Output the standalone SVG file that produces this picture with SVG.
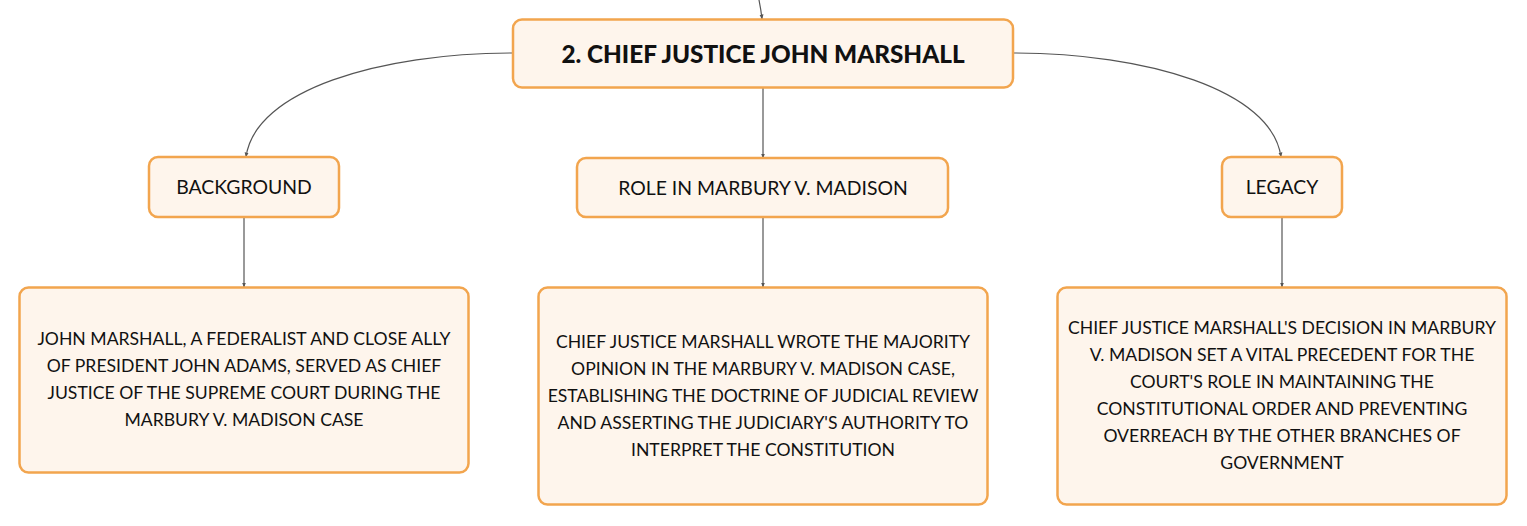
<svg xmlns="http://www.w3.org/2000/svg" width="1527" height="526" viewBox="0 0 1527 526">
<defs>
<marker id="arr" viewBox="0 0 10 10" refX="9" refY="5" markerWidth="5" markerHeight="5" orient="auto" markerUnits="userSpaceOnUse">
<path d="M0,1 L10,5 L0,9 z" fill="#555"/>
</marker>
<style>
.box{fill:#FEF5EC;stroke:#F2A54E;stroke-width:2.5}
.con{fill:none;stroke:#555;stroke-width:1.2;marker-end:url(#arr)}
.t{font-family:Lato,"Liberation Sans",sans-serif;fill:#111;text-anchor:middle}
.h{font-size:24.3px;font-weight:900}
.l{font-size:19.4px}
.d{font-size:17.6px}
</style>
</defs>
<rect width="1527" height="526" fill="#fff"/>
<g id="connectors">
<path class="con" d="M759,0 Q761,10 762,19"/>
<path class="con" d="M513,53 C380,53 255,90 246,157"/>
<path class="con" d="M1013,53 C1146,53 1272,90 1281,157"/>
<path class="con" d="M763,88 L763,158"/>
<path class="con" d="M244,217 L244,287"/>
<path class="con" d="M763,218 L763,287"/>
<path class="con" d="M1282,217 L1282,287"/>
</g>
<g id="root">
<rect class="box" x="513" y="19.5" width="500" height="68" rx="9"/>
<text class="t h" x="763" y="63">2. CHIEF JUSTICE JOHN MARSHALL</text>
</g>
<g id="background">
<rect class="box" x="149" y="157" width="190" height="60" rx="9"/>
<text class="t l" x="244" y="194">BACKGROUND</text>
</g>
<g id="role">
<rect class="box" x="577" y="158" width="371" height="59" rx="9"/>
<text class="t l" x="763" y="195">ROLE IN MARBURY V. MADISON</text>
</g>
<g id="legacy">
<rect class="box" x="1222" y="157" width="120" height="60" rx="9"/>
<text class="t l" x="1282" y="194">LEGACY</text>
</g>
<g id="background-detail">
<rect class="box" x="19.5" y="287.5" width="449" height="185" rx="9"/>
<text class="t d"><tspan x="244" y="345">JOHN MARSHALL, A FEDERALIST AND CLOSE ALLY</tspan><tspan x="244" y="372">OF PRESIDENT JOHN ADAMS, SERVED AS CHIEF</tspan><tspan x="244" y="399">JUSTICE OF THE SUPREME COURT DURING THE</tspan><tspan x="244" y="426">MARBURY V. MADISON CASE</tspan></text>
</g>
<g id="role-detail">
<rect class="box" x="538.5" y="287.5" width="449" height="217" rx="9"/>
<text class="t d"><tspan x="763" y="348">CHIEF JUSTICE MARSHALL WROTE THE MAJORITY</tspan><tspan x="763" y="375">OPINION IN THE MARBURY V. MADISON CASE,</tspan><tspan x="763" y="402">ESTABLISHING THE DOCTRINE OF JUDICIAL REVIEW</tspan><tspan x="763" y="429">AND ASSERTING THE JUDICIARY'S AUTHORITY TO</tspan><tspan x="763" y="456">INTERPRET THE CONSTITUTION</tspan></text>
</g>
<g id="legacy-detail">
<rect class="box" x="1057.5" y="287.5" width="449" height="217" rx="9"/>
<text class="t d"><tspan x="1282" y="334">CHIEF JUSTICE MARSHALL'S DECISION IN MARBURY</tspan><tspan x="1282" y="361">V. MADISON SET A VITAL PRECEDENT FOR THE</tspan><tspan x="1282" y="388">COURT'S ROLE IN MAINTAINING THE</tspan><tspan x="1282" y="415">CONSTITUTIONAL ORDER AND PREVENTING</tspan><tspan x="1282" y="442">OVERREACH BY THE OTHER BRANCHES OF</tspan><tspan x="1282" y="469">GOVERNMENT</tspan></text>
</g>
</svg>
